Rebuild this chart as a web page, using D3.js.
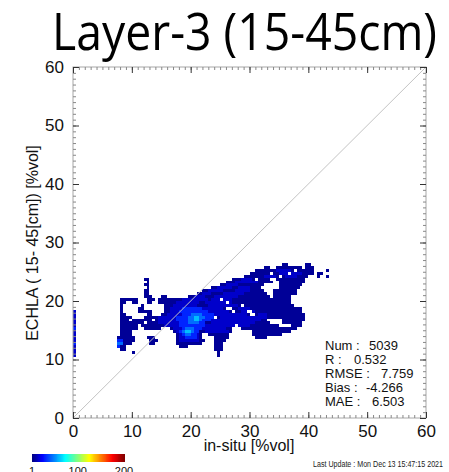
<!DOCTYPE html>
<html><head><meta charset="utf-8">
<script src="https://cdn.jsdelivr.net/npm/d3@7"></script>
<style>
html,body{margin:0;padding:0;background:#fff;}
svg{display:block;}
</style></head>
<body>
<svg id="chart" width="449" height="472"></svg>
<script>
// ---------------- data ----------------
const titleText = "Layer-3 (15-45cm)";
const xTitle = "in-situ [%vol]";
const yTitle = "ECHLA ( 15- 45[cm]) [%vol]";
const updateText = "Last Update : Mon Dec 13 15:47:15 2021";
const axisDomain = [0, 60];
const majorTicks = [0, 10, 20, 30, 40, 50, 60];
const minorTicks = [0,1,2,3,4,5,6,7,8,9,10,11,12,13,14,15,16,17,18,19,20,21,22,23,24,25,26,27,28,29,30,
  31,32,33,34,35,36,37,38,39,40,41,42,43,44,45,46,47,48,49,50,51,52,53,54,55,56,57,58,59,60];
const oneToOne = [[0, 0], [60, 60]];
const statLabels = ["Num :", "R :", "RMSE :", "Bias :", "MAE :"];
const statValues = ["5039", "0.532", "7.759", "-4.266", "6.503"];
const colorDomain = [1, 200];
const colorTicks = [1, 100, 200];

// 2-D histogram: bins of 0.5 %vol; column index c -> x = heatX0 + c*binSize,
// row index r -> y = heatYTop - r*binSize
const binSize = 0.5;
const heatX0 = 7.5;
const heatYTop = 26.0;
// approximate count for each density class
const levelCounts = [0, 5, 14, 30, 44, 60];
// occupied bins per row: [firstColumn, lastColumn]
const heatRuns = [
  [[56,57],[64,65]],
  [[50,51],[54,62],[64,66]],
  [[47,59],[61,66],[71,71]],
  [[45,51],[53,57],[59,66],[68,69]],
  [[43,54],[56,64],[68,68],[71,71]],
  [[9,10],[39,46],[48,51],[54,63]],
  [[10,10],[37,52],[55,63]],
  [[9,10],[35,49],[55,62]],
  [[10,10],[32,48],[55,61]],
  [[9,10],[29,49],[53,60]],
  [[9,10],[27,50],[53,60]],
  [[9,11],[15,16],[24,51],[53,58]],
  [[1,6],[10,12],[14,34],[36,58]],
  [[1,2],[5,6],[10,11],[14,36],[38,58]],
  [[1,1],[8,8],[16,41],[43,59]],
  [[1,1],[7,8],[16,36],[39,62]],
  [[1,1],[7,11],[16,38],[40,43],[46,62]],
  [[1,2],[10,11],[15,44],[47,63]],
  [[1,4],[9,32],[34,63]],
  [[1,3],[5,11],[13,50],[56,63]],
  [[1,8],[10,51],[56,62]],
  [[1,6],[8,39],[41,54],[59,62]],
  [[1,6],[9,14],[18,38],[42,60]],
  [[1,4],[19,38],[46,58]],
  [[1,4],[20,28],[31,37],[46,55]],
  [[0,5],[10,12],[20,28],[33,37],[47,50]],
  [[0,5],[11,13],[20,29],[33,36]],
  [[0,4],[11,12],[20,28],[33,35]],
  [[0,2],[21,23],[33,35]],
  [[1,2],[33,35]],
  [[5,5],[34,34]],
  [[34,34]]
];
// denser patches: [row, firstColumn, lastColumn, class]
const denseRuns = [
  [2,54,58,2],[3,55,62,2],[4,50,53,2],[4,57,60,2],[5,42,45,2],[6,40,47,2],[7,37,40,2],
  [8,34,38,2],[8,41,44,2],[9,31,35,2],[9,40,44,2],[10,29,31,2],[10,36,42,2],[11,26,29,2],[11,33,40,2],
  [12,22,30,2],[12,32,38,2],[13,20,27,2],[13,30,38,2],[14,19,26,2],[14,31,40,2],
  [15,18,35,2],[15,41,44,2],[16,18,37,2],[16,42,46,2],[17,17,43,2],[17,48,50,2],
  [18,14,32,2],[18,35,50,2],[19,14,48,2],[20,14,29,2],[20,32,46,2],[21,16,39,2],[21,41,44,2],
  [22,19,36,2],[23,20,27,2],[23,30,37,2],[24,21,27,2],[25,21,27,2],[26,21,27,2],
  [15,22,28,3],[16,21,30,3],[17,22,32,3],[18,20,32,3],[19,20,31,3],[20,21,29,3],[21,21,29,3],
  [22,22,28,3],[23,21,27,3],[24,22,26,3],[25,23,26,3],[26,0,1,3],[28,0,0,3],
  [17,25,28,4],[18,24,29,4],[19,24,28,4],[20,24,27,4],[22,23,25,4],[23,22,25,4],[24,23,24,4],[27,0,1,4],
  [18,26,27,5],[19,26,27,5],[23,23,24,5]
];
// column of stations with in-situ = 0
const zeroColV = [10.5,11,11.5,12,12.5,13,13.5,14,14.5,15,15.5,16,16.5,17,17.5,18];
const zeroColLevel = [2,2,2,2,3,2,2,2,2,3,2,2,2,2,2,2];

// ---------------- drawing ----------------
const svg = d3.select("#chart");
svg.append("rect").attr("width",449).attr("height",472).attr("fill","#fff");

const x = d3.scaleLinear().domain(axisDomain).range([73, 426]);
const y = d3.scaleLinear().domain(axisDomain).range([418, 67]);

const jet = d3.scaleLinear()
  .domain([0, 0.11, 0.36, 0.62, 0.87, 1].map(t => colorDomain[0] + t*(colorDomain[1]-colorDomain[0])))
  .range(["#000080","#0000ff","#00ffff","#ffff00","#ff0000","#800000"])
  .clamp(true);

// build cells
const cells = [];
heatRuns.forEach((runs, r) => {
  runs.forEach(([c0, c1]) => {
    for (let c = c0; c <= c1; c++) {
      let lvl = 1;
      denseRuns.forEach(([rr, a, b, l]) => { if (rr === r && c >= a && c <= b && l > lvl) lvl = l; });
      cells.push({u: heatX0 + c*binSize, v: heatYTop - r*binSize, count: levelCounts[lvl]});
    }
  });
});
zeroColV.forEach((v, i) => cells.push({u: 0, v: v, count: levelCounts[zeroColLevel[i]]}));

svg.append("g").attr("shape-rendering","crispEdges")
  .selectAll("rect").data(cells).join("rect")
  .attr("x", d => x(d.u))
  .attr("y", d => y(d.v + binSize))
  .attr("width", d => x(d.u + binSize) - x(d.u))
  .attr("height", d => y(d.v) - y(d.v + binSize))
  .attr("fill", d => jet(d.count));

// 1:1 line
svg.append("path")
  .attr("d", d3.line().x(d => x(d[0])).y(d => y(d[1]))(oneToOne))
  .attr("stroke", "#c4c4c4").attr("stroke-width", 1).attr("fill","none");

// frame
svg.append("rect").attr("x", x(0)).attr("y", y(60)).attr("width", x(60)-x(0)).attr("height", y(0)-y(60))
  .attr("fill","none").attr("stroke","#a8a8a8").attr("stroke-width",1);

function styleAxis(g, color, showText) {
  g.select(".domain").remove();
  g.selectAll(".tick line").attr("stroke", color);
  g.attr("font-family", "'Liberation Sans', Arial, sans-serif").attr("font-size", 17);
  g.selectAll(".tick text").attr("fill", "#111");
  if (!showText) g.selectAll(".tick text").remove();
}
// minor ticks
svg.append("g").attr("transform","translate(0,418)").call(d3.axisBottom(x).tickValues(minorTicks).tickSize(-3).tickFormat("")).call(g => styleAxis(g,"#888",false));
svg.append("g").attr("transform","translate(0,67)").call(d3.axisTop(x).tickValues(minorTicks).tickSize(-3).tickFormat("")).call(g => styleAxis(g,"#888",false));
svg.append("g").attr("transform","translate(73,0)").call(d3.axisLeft(y).tickValues(minorTicks).tickSize(-3).tickFormat("")).call(g => styleAxis(g,"#888",false));
svg.append("g").attr("transform","translate(426,0)").call(d3.axisRight(y).tickValues(minorTicks).tickSize(-3).tickFormat("")).call(g => styleAxis(g,"#888",false));
// major ticks
svg.append("g").attr("transform","translate(0,418)").call(d3.axisBottom(x).tickValues(majorTicks).tickSize(-6).tickPadding(7).tickFormat(d3.format("d"))).call(g => styleAxis(g,"#333",true));
svg.append("g").attr("transform","translate(0,67)").call(d3.axisTop(x).tickValues(majorTicks).tickSize(-6).tickFormat("")).call(g => styleAxis(g,"#333",false));
svg.append("g").attr("transform","translate(73,0)").call(d3.axisLeft(y).tickValues(majorTicks).tickSize(-6).tickPadding(9).tickFormat(d3.format("d"))).call(g => styleAxis(g,"#333",true));
svg.append("g").attr("transform","translate(426,0)").call(d3.axisRight(y).tickValues(majorTicks).tickSize(-6).tickFormat("")).call(g => styleAxis(g,"#333",false));

// axis titles
svg.append("text").attr("x", 249).attr("y", 451).attr("text-anchor","middle")
  .attr("font-family","'Liberation Sans', Arial, sans-serif").attr("font-size",16).attr("fill","#111")
  .text(xTitle);
svg.append("text").attr("transform","translate(38,243) rotate(-90)").attr("text-anchor","middle")
  .attr("font-family","'Liberation Sans', Arial, sans-serif").attr("font-size",16).attr("fill","#111")
  .text(yTitle);

// title
svg.append("text").attr("x", 52).attr("y", 50)
  .attr("font-family","'Open Sans', 'Noto Sans', sans-serif").attr("font-size", 52).attr("fill","#000")
  .attr("textLength", 385).attr("lengthAdjust","spacingAndGlyphs")
  .text(titleText);

// statistics box
const statValueX = [369, 354, 381, 366, 372];
const stats = svg.append("g").attr("font-family","'Liberation Sans', Arial, sans-serif").attr("font-size",13).attr("fill","#111");
statLabels.forEach((lab, i) => {
  stats.append("text").attr("x", 325).attr("y", 350 + i*14).text(lab);
  stats.append("text").attr("x", statValueX[i]).attr("y", 350 + i*14).text(statValues[i]);
});

// colour bar
const cb = d3.scaleLinear().domain(colorDomain).range([32, 124]);
svg.append("g").attr("shape-rendering","crispEdges").selectAll("rect").data(d3.range(colorDomain[0], colorDomain[1])).join("rect")
  .attr("x", d => cb(d)).attr("y", 454)
  .attr("width", d => cb(d+1) - cb(d) + 0.6).attr("height", 8)
  .attr("fill", d => jet(d));
svg.append("g").selectAll("text").data(colorTicks).join("text")
  .attr("x", d => cb(d)).attr("y", 475).attr("text-anchor","middle")
  .attr("font-family","'Liberation Sans', Arial, sans-serif").attr("font-size",11).attr("fill","#111")
  .text(d => d);

// update stamp
svg.append("text").attr("x", 313).attr("y", 467)
  .attr("font-family","'Liberation Sans', Arial, sans-serif").attr("font-size",8.5).attr("fill","#222")
  .attr("textLength",130).attr("lengthAdjust","spacingAndGlyphs")
  .text(updateText);
</script>
</body></html>
